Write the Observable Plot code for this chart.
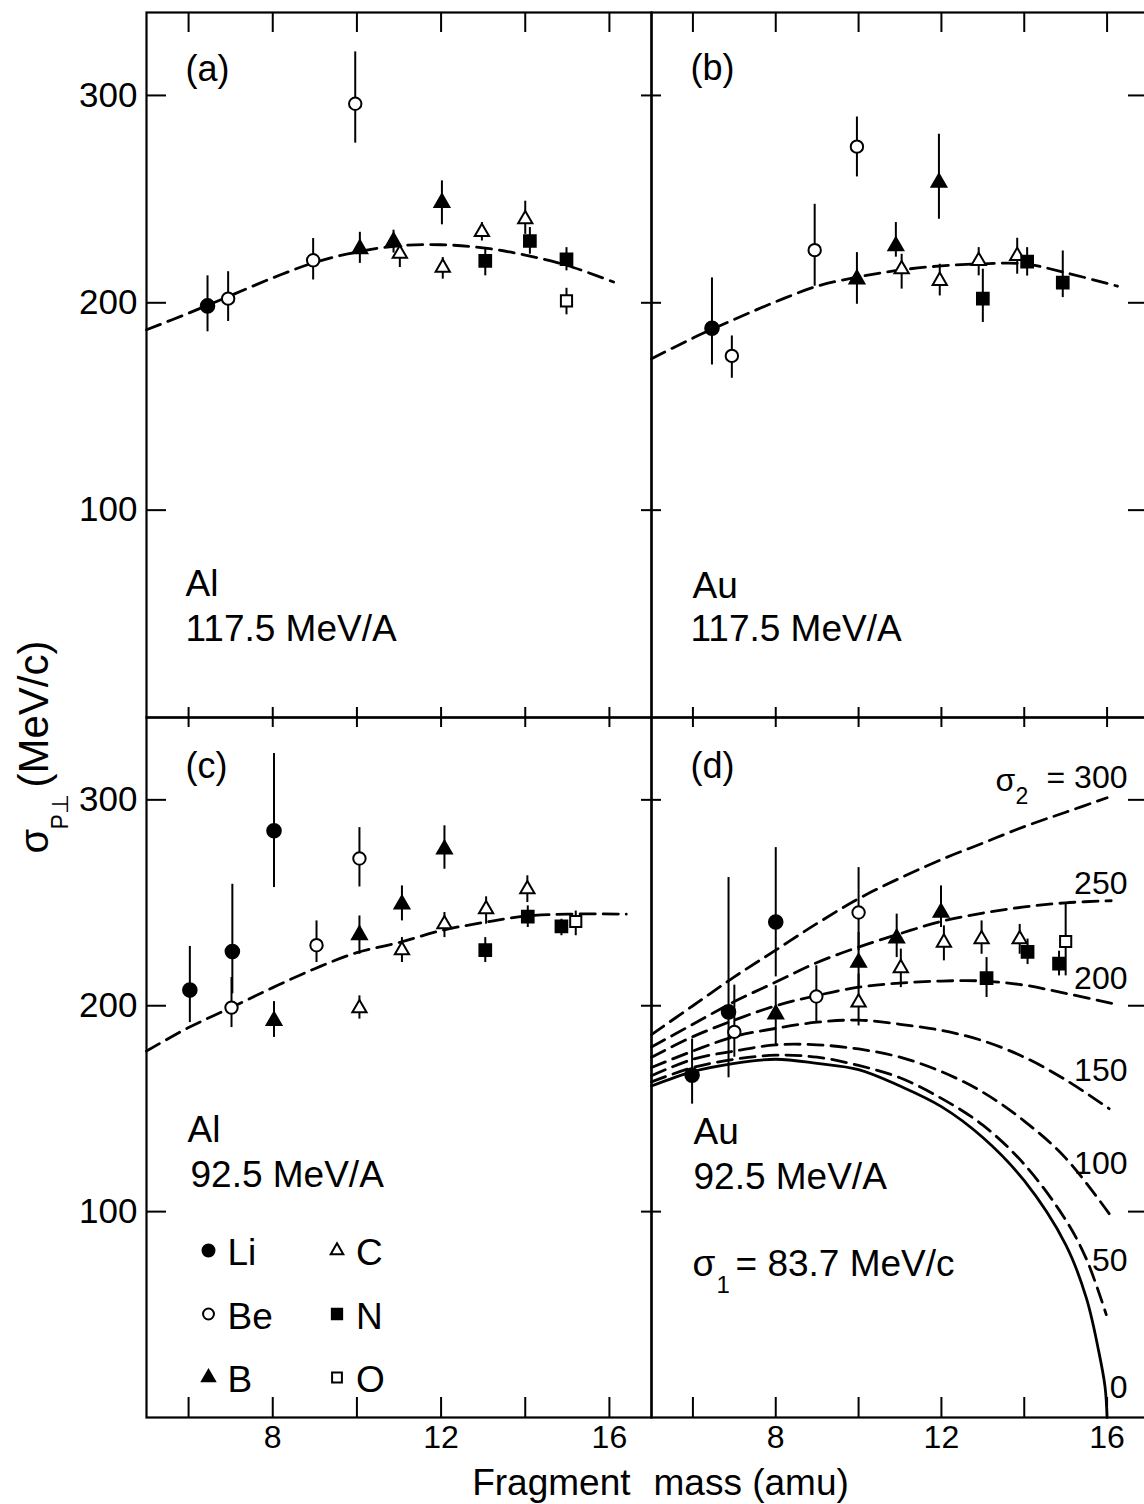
<!DOCTYPE html>
<html><head><meta charset="utf-8">
<script src="https://cdn.jsdelivr.net/npm/d3@7"></script>
<script src="https://cdn.jsdelivr.net/npm/@observablehq/plot@0.6"></script>
<style>
html,body{margin:0;padding:0;background:#fff;overflow:hidden;}
#wrap{position:relative;width:1144px;height:1504px;overflow:hidden;background:#fff;}
.pn{position:absolute;}
</style></head><body><div id="wrap"></div>
<script>
const FONT = "Liberation Sans, Arial, sans-serif";
const species = ["Li", "Be", "B", "C", "N", "O"];
const xTicks = [6, 8, 10, 12, 14, 16];
const xTickLabels = [8, 12, 16];
const yTicks = [100, 200, 300];

// points: [fragment, mass (amu), sigma (MeV/c), error low, error high]
const ptsA = [
  ["Li", 6.45, 198.5, 186, 213], ["Be", 6.94, 202, 191, 215], ["Be", 8.96, 220.5, 211, 231],
  ["Be", 9.96, 296, 277, 321], ["B", 10.07, 226, 219, 234], ["B", 10.87, 229.5, 224, 235],
  ["C", 11.02, 223.7, 217, 228], ["B", 12.02, 248.3, 237.6, 258.8], ["C", 12.04, 217, 211.4, 221.8],
  ["C", 12.97, 234.2, 229.8, 238.7], ["N", 13.05, 220.2, 213, 226.6], ["C", 14.0, 240.3, 233, 249],
  ["N", 14.11, 229.8, 223.4, 236.3], ["N", 14.98, 221, 215.4, 226.6], ["O", 14.98, 200.9, 194.2, 207]
];
const ptsB = [
  ["Li", 6.46, 187.7, 170, 212], ["Be", 6.94, 174.4, 163.6, 184], ["Be", 8.94, 225.4, 208, 247.5],
  ["Be", 9.96, 275.3, 260.7, 289.6], ["B", 9.96, 211.4, 199.3, 224.2], ["B", 10.9, 227.4, 222, 238.7],
  ["C", 11.04, 216.2, 206.6, 223.4], ["B", 11.94, 258, 240.3, 281.3], ["C", 11.96, 210.6, 203.3, 218.6],
  ["C", 12.9, 220.2, 213, 226.6], ["N", 13.0, 202, 190.5, 216.2], ["C", 13.83, 222.6, 213.8, 231.1],
  ["N", 14.07, 219.9, 212.9, 226.6], ["N", 14.93, 209.7, 202.5, 225]
];
const ptsC = [
  ["Li", 6.03, 207.6, 191.8, 228.8], ["Li", 7.04, 226.3, 205.8, 259], ["Li", 8.03, 285, 257.4, 322.5],
  ["Be", 7.02, 199.1, 189.4, 213.7], ["B", 8.03, 192.7, 184.6, 202], ["Be", 9.04, 229.4, 221, 241.2],
  ["Be", 10.06, 271.5, 257.7, 286.5], ["B", 10.06, 234.4, 225, 243.6], ["C", 10.06, 198.8, 193.5, 204.8],
  ["B", 11.07, 249.3, 241.2, 258.2], ["C", 11.07, 227, 221, 233.1], ["B", 12.08, 276, 266.3, 287.4],
  ["C", 12.08, 239.6, 233.1, 245.3], ["C", 13.07, 246.9, 239.6, 252.9], ["N", 13.05, 227, 221, 233.1],
  ["C", 14.05, 256.6, 250.1, 263.1], ["N", 14.06, 243.3, 238, 248.5], ["N", 14.86, 238.5, 234, 242],
  ["O", 15.2, 240.9, 234, 246]
];
const ptsD = [
  ["Li", 5.98, 166.3, 152.2, 183.8], ["Li", 6.86, 197, 165, 262.3], ["Be", 7.0, 187.3, 175, 210],
  ["Li", 8.0, 240.7, 214, 276.8], ["B", 8.0, 195.9, 180.5, 209.7], ["Be", 8.98, 204.5, 191.8, 219.4],
  ["Be", 10.0, 245.3, 226.7, 267.1], ["B", 10.0, 221, 208.8, 235.6], ["C", 10.0, 201.6, 190.2, 215.3],
  ["B", 10.92, 232.8, 223.4, 244.5], ["C", 11.02, 218.3, 208.8, 227.5], ["B", 11.99, 245.3, 238, 258.2],
  ["C", 12.06, 230.7, 221.8, 238.8], ["C", 12.97, 232.3, 225, 241.2], ["N", 13.09, 213.4, 204, 223.4],
  ["C", 13.89, 232.3, 225, 239.5], ["N", 14.08, 226.2, 220, 232.4], ["N", 14.84, 220.5, 214.5, 226.5],
  ["O", 15.0, 231.2, 214.5, 250.1]
];

// fitted curves [mass, sigma]
const fitA = [[5,187],[6,195],[7,203.5],[8,212],[9,219.5],[10,224.5],[11,227.5],[12,228],[13,226.5],[14,223],[15,218],[16.1,210]];
const fitB = [[5,173],[6,183],[7,192],[8,200.5],[9,208],[10,212.5],[11,215.8],[12,217.8],[13,218.8],[14,218.8],[15,214.5],[16.25,208]];
const fitC = [[5,178],[6,189.4],[7,199],[8,208.8],[9,218],[10,225.8],[11,230.7],[12,236.5],[13,240.4],[14,243.5],[15,244.5],[16.4,244.5]];

const sigma2 = [300, 250, 200, 150, 100, 50, 0];
const curveD300 = [[5,186],[6,200],[7,214],[8,227],[9,240],[10,252],[11,262],[12,271],[13,279],[14,287],[15,294],[16,301]];
const curveD250 = [[5,180],[6,191],[7,202],[8,211.5],[9,221],[10,228.5],[11,235],[12,241],[13,245],[14,248],[15,250],[16.1,251]];
const curveD200 = [[5,175],[6,185],[7,193],[8,200],[9,205],[10,209],[11,211],[12,212],[13,212],[14,210],[15,206],[16.15,201]];
const curveD150 = [[5,170],[6,178],[7,185],[8,189],[9,192],[10,193],[11,191],[12,188],[13,183],[14,175],[15,164],[16.05,150]];
const curveD100 = [[5,166],[6,174],[7,178],[8,181],[9,181],[10,179],[11,175],[12,168],[13,158],[14,144],[15,126],[16.05,99]];
const curveD50 = [[5,163],[6,170],[7,174],[8,176],[9,175],[10,171],[11,165],[12,155],[13,142],[14,123],[15,96],[15.5,77],[15.98,50]];
const curveD0 = [[5,161],[6,168],[7,172],[8,174],[9,172],[10,169],[11,161],[12,151],[13,136],[14,115],[15,84],[15.5,58],[15.8,32],[15.95,15],[16,0]];

const markStyle = {
  Li: {symbol: "circle", filled: true, r: 6.8},
  Be: {symbol: "circle", filled: false, r: 6.2},
  B: {symbol: "triangle", filled: true, r: 5.5},
  C: {symbol: "triangle", filled: false, r: 5.3},
  N: {symbol: "square", filled: true, r: 6.6},
  O: {symbol: "square", filled: false, r: 6.3}
};

function dotOpts(s, extra, k = 1) {
  const st = markStyle[s];
  return {symbol: st.symbol, r: st.r * k, fill: st.filled ? "black" : "white", stroke: "black", strokeWidth: 2, ...extra};
}

const note = (t, dx, dy, o = {}) => Plot.text([t], {
  text: d => d, frameAnchor: "top-left", dx, dy, textAnchor: "start", lineAnchor: "bottom",
  fontSize: 37, fill: "black", ...o
});

function panel(cfg) {
  const {pts, fits, left, top, width, height, mt, mb, ml, edges, extra} = cfg;
  const fw = width - ml, fh = height - mt - mb;
  const rows = pts.map(d => ({sp: d[0], m: d[1], v: d[2], lo: d[3], hi: d[4]}));
  const marks = [];
  for (const f of fits) {
    marks.push(Plot.line(f.data, {x: d => d[0], y: d => d[1], curve: "catmull-rom", stroke: "black",
      strokeWidth: 2.8, ...(f.solid ? {} : {strokeDasharray: "15,8"})}));
  }
  marks.push(Plot.ruleX(rows, {x: "m", y1: "lo", y2: "hi", stroke: "black", strokeWidth: 2}));
  for (const s of species) marks.push(Plot.dot(rows.filter(r => r.sp === s), dotOpts(s, {x: "m", y: "v"})));
  marks.push(Plot.tickY(yTicks, {y: d => d, insetRight: fw - edges.l, strokeWidth: 2}));
  marks.push(Plot.tickY(yTicks, {y: d => d, insetLeft: fw - edges.r, strokeWidth: 2}));
  marks.push(Plot.tickX(xTicks, {x: d => d, insetBottom: fh - edges.t, strokeWidth: 2}));
  marks.push(Plot.tickX(xTicks, {x: d => d, insetTop: fh - edges.b, strokeWidth: 2}));
  marks.push(Plot.frame({stroke: "black", strokeWidth: 2.2}));
  marks.push(...extra);
  const svg = Plot.plot({
    width, height, marginTop: mt, marginBottom: mb, marginLeft: ml, marginRight: 0,
    x: {domain: [5, 17], axis: null},
    y: {domain: [0, 340], axis: null},
    style: {background: "transparent", overflow: "visible", fontFamily: FONT, maxWidth: "none"},
    marks
  });
  const div = document.createElement("div");
  div.className = "pn";
  div.style.left = left + "px";
  div.style.top = top + "px";
  div.appendChild(svg);
  document.getElementById("wrap").appendChild(div);
}

const yAxis = () => Plot.axisY({ticks: yTicks, tickSize: 0, tickPadding: 9, fontSize: 35, label: null});
const xAxis = () => Plot.axisX({ticks: xTickLabels, tickSize: 0, tickPadding: 8, fontSize: 32, label: null});

// (a)
panel({pts: ptsA, fits: [{data: fitA}], left: 0, top: 0, width: 651, height: 717, mt: 12, mb: 0, ml: 146,
  edges: {l: 20, r: 10, t: 20, b: 10},
  extra: [yAxis(), note("(a)", 39, 68, {fontSize: 36}), note("Al", 39, 583), note("117.5 MeV/A", 39, 628)]});
// (b)
panel({pts: ptsB, fits: [{data: fitB}], left: 651, top: 0, width: 497, height: 717, mt: 12, mb: 0, ml: 0,
  edges: {l: 10, r: 20, t: 20, b: 10},
  extra: [note("(b)", 39, 67, {fontSize: 36}), note("Au", 41, 585), note("117.5 MeV/A", 39, 628)]});

// legend (c)
const legendMarks = [];
species.forEach((s, i) => {
  const col = Math.floor(i / 3), row = i % 3;
  const dx = 62 + col * 128.5, dy = -167 + row * 63.5;
  legendMarks.push(Plot.dot([s], dotOpts(s, {frameAnchor: "bottom-left", dx, dy}, 0.88)));
  legendMarks.push(Plot.text([s], {text: d => d, frameAnchor: "bottom-left", dx: dx + 19, dy: dy + 3,
    textAnchor: "start", lineAnchor: "middle", fontSize: 37, fill: "black"}));
});
const yTitle = [
  note("σ", -99, 136, {rotate: -90, fontSize: 40}),
  note("P⊥", -79, 829 - 717, {rotate: -90, fontSize: 23}),
  note("(MeV/c)", -99, 70, {rotate: -90, fontSize: 42})
];
const xTitle = [
  Plot.text(["Fragment"], {text: d => d, frameAnchor: "bottom-left", dx: 484, dy: 77, textAnchor: "end", lineAnchor: "bottom", fontSize: 37, fill: "black"}),
  Plot.text(["mass (amu)"], {text: d => d, frameAnchor: "bottom-left", dx: 507, dy: 77, textAnchor: "start", lineAnchor: "bottom", fontSize: 37, fill: "black"})
];
// (c)
panel({pts: ptsC, fits: [{data: fitC}], left: 0, top: 717, width: 651, height: 787, mt: 0, mb: 87, ml: 146,
  edges: {l: 20, r: 10, t: 10, b: 20},
  extra: [yAxis(), xAxis(), note("(c)", 39, 60, {fontSize: 36}), note("Al", 41, 424), note("92.5 MeV/A", 44, 469),
    ...legendMarks, ...yTitle, ...xTitle]});

// (d)
const curvesD = [curveD300, curveD250, curveD200, curveD150, curveD100, curveD50, curveD0];
const labelBaselines = [70, 176, 271, 363, 456, 553, 680];
const curveLabels = sigma2.map((s, i) => Plot.text([String(s)], {text: d => (i === 0 ? "= " : "") + d,
  frameAnchor: "top-left", dx: 476, dy: labelBaselines[i], textAnchor: "end", lineAnchor: "bottom", fontSize: 32, fill: "black"}));
panel({pts: ptsD, fits: curvesD.map((data, i) => ({data, solid: sigma2[i] === 0})),
  left: 651, top: 717, width: 497, height: 787, mt: 0, mb: 87, ml: 0,
  edges: {l: 10, r: 20, t: 10, b: 20},
  extra: [xAxis(), note("(d)", 39, 60, {fontSize: 36}), note("Au", 42, 426), note("92.5 MeV/A", 42, 471),
    note("σ", 41, 558), note("1", 65, 575, {fontSize: 24}), note("= 83.7 MeV/c", 84, 558),
    note("σ", 344, 73, {fontSize: 32}), note("2", 364, 86, {fontSize: 23}),
    ...curveLabels]});
</script></body></html>
